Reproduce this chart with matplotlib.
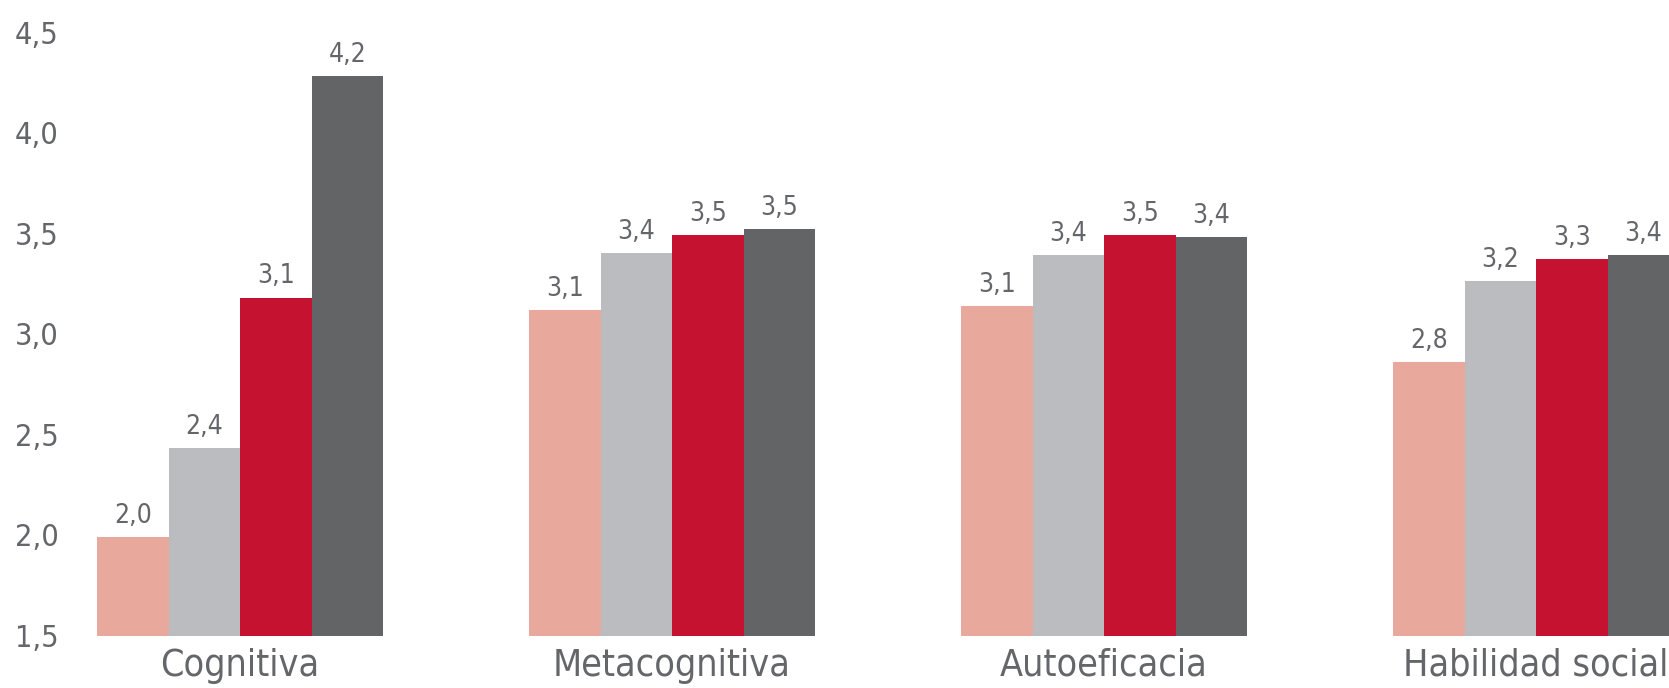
import matplotlib
matplotlib.use("Agg")
import matplotlib.pyplot as plt
from matplotlib import font_manager as fm
import numpy as np

categories = ['Cognitiva', 'Metacognitiva', 'Autoeficacia', 'Habilidad social']
# heights; labels are the printed values
serie1 = [1.99, 3.12, 3.14, 2.86]
serie2 = [2.43, 3.40, 3.39, 3.26]
serie3 = [3.18, 3.49, 3.49, 3.37]
serie4 = [4.28, 3.52, 3.48, 3.39]
etiq1 = ['2,0', '3,1', '3,1', '2,8']
etiq2 = ['2,4', '3,4', '3,4', '3,2']
etiq3 = ['3,1', '3,5', '3,5', '3,3']
etiq4 = ['4,2', '3,5', '3,4', '3,4']
yticks = [1.5, 2.0, 2.5, 3.0, 3.5, 4.0, 4.5]

colores = ['#E8A99C', '#BBBCC0', '#C41230', '#636466']
gris = '#656669'

# look for a narrow / condensed face, the original uses one
fuente = None
for f in fm.fontManager.ttflist:
    n = (f.name + ' ' + f.fname).lower()
    if ('narrow' in n or 'condensed' in n or 'cond' in f.stretch) and 'bold' not in n \
            and f.weight in (300, 400, 'normal', 'light', 'regular') and f.style == 'normal':
        fuente = f.fname
        break

def fp(size):
    if fuente:
        return fm.FontProperties(fname=fuente, size=size)
    return fm.FontProperties(family='DejaVu Sans', size=size)

fig = plt.figure(figsize=(16.69, 6.88), dpi=100)
ax = fig.add_axes([70 / 1669, 52.5 / 688, 1 - 70 / 1669, 603.5 / 688])

x = np.arange(len(categories))
w = 71.5 / 432
series = [serie1, serie2, serie3, serie4]
etiquetas = [etiq1, etiq2, etiq3, etiq4]
for i, (s, et) in enumerate(zip(series, etiquetas)):
    pos = x + (i - 1.5) * w
    ax.bar(pos, np.array(s) - 1.5, bottom=1.5, width=w, color=colores[i], linewidth=0)
    for p, v, t in zip(pos, s, et):
        ax.text(p, v + 0.04, t, ha='center', va='bottom', fontproperties=fp(19), color=gris)

ax.set_xlim((70 - 240) / 432, (1669 - 240) / 432)
ax.set_ylim(1.5, 4.5)
ax.set_yticks(yticks)
ax.set_yticklabels([f'{t:.1f}'.replace('.', ',') for t in yticks], fontproperties=fp(22), color=gris)
ax.set_xticks(x)
ax.set_xticklabels(categories, fontproperties=fp(27), color=gris)
ax.tick_params(length=0)
ax.tick_params(axis='y', pad=8)
ax.tick_params(axis='x', pad=9)
for sp in ax.spines.values():
    sp.set_visible(False)

fig.savefig('out.png', dpi=100)
